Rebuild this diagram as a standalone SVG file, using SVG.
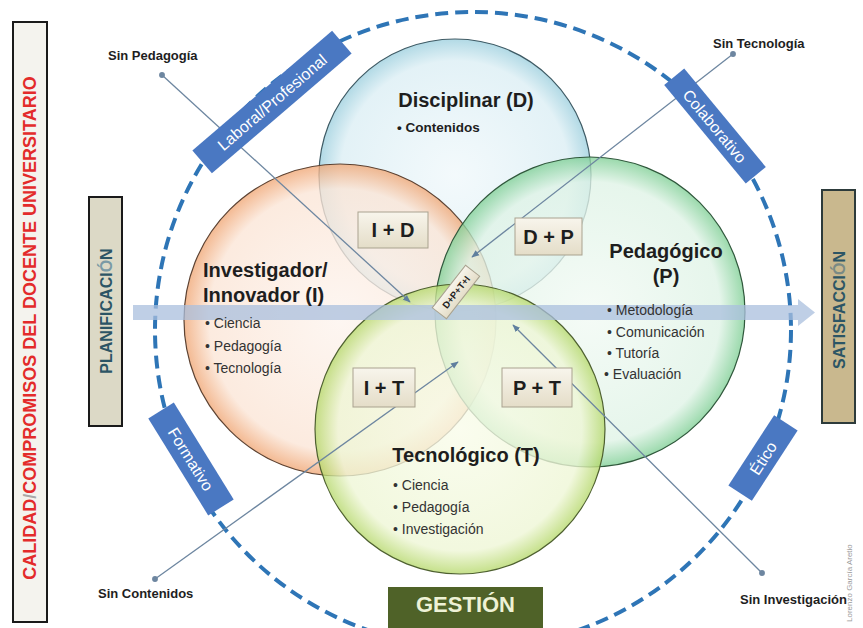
<svg xmlns="http://www.w3.org/2000/svg" width="863" height="628" viewBox="0 0 863 628">
<defs>
<radialGradient id="gD" cx="50%" cy="50%" r="50%"><stop offset="0" stop-color="#f0f8fb"/><stop offset="0.84" stop-color="#dbeef4"/><stop offset="1" stop-color="#9ccfde"/></radialGradient>
<radialGradient id="gI" cx="50%" cy="50%" r="50%"><stop offset="0" stop-color="#fdf4ee"/><stop offset="0.84" stop-color="#fbe5d6"/><stop offset="1" stop-color="#f0a674"/></radialGradient>
<radialGradient id="gP" cx="50%" cy="50%" r="50%"><stop offset="0" stop-color="#f2faf4"/><stop offset="0.84" stop-color="#dff3e6"/><stop offset="1" stop-color="#7fcf95"/></radialGradient>
<radialGradient id="gT" cx="50%" cy="50%" r="50%"><stop offset="0" stop-color="#f9fcea"/><stop offset="0.84" stop-color="#eef6d5"/><stop offset="1" stop-color="#b5d86a"/></radialGradient>
<linearGradient id="gBox" x1="0" y1="0" x2="0" y2="1"><stop offset="0" stop-color="#f8f5ec"/><stop offset="1" stop-color="#e4ddc8"/></linearGradient>
<marker id="arr" viewBox="0 0 10 10" refX="9" refY="5" markerWidth="6" markerHeight="6" orient="auto"><path d="M0,1 L10,5 L0,9 z" fill="#5f7f9e"/></marker>
<marker id="dot" viewBox="0 0 10 10" refX="5" refY="5" markerWidth="5" markerHeight="5"><circle cx="5" cy="5" r="4.5" fill="#6d86a0"/></marker>
</defs>
<style>
.circ{stroke-width:1.2;fill-opacity:0.78}
.t{font-family:"Liberation Sans",Arial,sans-serif;fill:#1e1e1e}
.title{font-size:20px;font-weight:bold}
.bul{font-size:14px;fill:#333}
.sin{font-size:13px;font-weight:bold;fill:#1e1e1e;font-family:"Liberation Sans",Arial,sans-serif}
.tag{fill:#4a78c2}
.tagt{font-family:"Liberation Sans",Arial,sans-serif;font-size:16px;fill:#ffffff}
.pair{fill:url(#gBox);stroke:#a9a28f;stroke-width:1}
.pairt{font-family:"Liberation Sans",Arial,sans-serif;font-size:20px;font-weight:bold;fill:#1e1e1e}
.conn{stroke:#6d86a0;stroke-width:1.3;fill:none;marker-start:url(#dot);marker-end:url(#arr)}
.side{font-family:"Liberation Sans",Arial,sans-serif;font-size:16px;font-weight:bold;fill:#2c5565}
</style>
<rect width="863" height="628" fill="#ffffff"/>

<g id="calidad">
<rect x="13" y="22" width="34" height="600" fill="#f4f3ee" stroke="#1a1a1a" stroke-width="2"/>
<text transform="translate(36,328) rotate(-90)" text-anchor="middle" font-family="Liberation Sans,Arial,sans-serif" font-size="18" font-weight="bold" fill="#e32b2b">CALIDAD<tspan fill="#a8a8a8">/</tspan>COMPROMISOS  DEL DOCENTE UNIVERSITARIO</text>
</g>

<g id="planificacion">
<rect x="89" y="197" width="33" height="229" fill="#dcd9c6" stroke="#1a1a1a" stroke-width="2"/>
<text class="side" transform="translate(111.5,311) rotate(-90)" text-anchor="middle">PLANIFICACI<tspan fill="#7a9aa5">Ó</tspan>N</text>
</g>

<g id="satisfaccion">
<rect x="822" y="190" width="33" height="233" fill="#c9b88e" stroke="#2d3b3b" stroke-width="2"/>
<text class="side" transform="translate(844.5,310) rotate(-90)" text-anchor="middle">SATISFACCI<tspan fill="#7a8a85">Ó</tspan>N</text>
</g>

<g id="marco">
<circle cx="473" cy="330" r="318" fill="none" stroke="#2e75b6" stroke-width="4" stroke-dasharray="13 7"/>
</g>

<g id="disciplinar">
<circle class="circ" cx="455" cy="175" r="136" fill="url(#gD)" stroke="#3e5a64"/>
</g>
<g id="investigador">
<circle class="circ" cx="340" cy="320" r="156" fill="url(#gI)" stroke="#5c4232"/>
</g>
<g id="pedagogico">
<circle class="circ" cx="590" cy="312" r="155" fill="url(#gP)" stroke="#30583c"/>
</g>
<g id="tecnologico">
<circle class="circ" cx="460" cy="429" r="145" fill="url(#gT)" stroke="#4e6030"/>
</g>

<g id="eje">
<path d="M133,305 L798,305 L798,299 L815,312.5 L798,326 L798,320 L133,320 z" fill="#a9bfdd" fill-opacity="0.75"/>
</g>

<g id="textos-disciplinar">
<text class="t title" x="466" y="107" text-anchor="middle">Disciplinar (D)</text>
<text class="t" x="397" y="132" font-size="13.5" font-weight="bold">• Contenidos</text>
</g>
<g id="textos-investigador">
<text class="t title" x="203" y="277" font-size="19">Investigador/</text>
<text class="t title" x="203" y="302" font-size="19">Innovador (I)</text>
<text class="t bul" x="205" y="328">• Ciencia</text>
<text class="t bul" x="205" y="351">• Pedagogía</text>
<text class="t bul" x="205" y="373">• Tecnología</text>
</g>
<g id="textos-pedagogico">
<text class="t title" x="666" y="258" text-anchor="middle">Pedagógico</text>
<text class="t title" x="666" y="283" text-anchor="middle">(P)</text>
<text class="t bul" x="607" y="315">• Metodología</text>
<text class="t bul" x="607" y="337">• Comunicación</text>
<text class="t bul" x="607" y="358">• Tutoría</text>
<text class="t bul" x="604" y="379">• Evaluación</text>
</g>
<g id="textos-tecnologico">
<text class="t title" x="466" y="462" text-anchor="middle">Tecnológico (T)</text>
<text class="t bul" x="393" y="490">• Ciencia</text>
<text class="t bul" x="393" y="512">• Pedagogía</text>
<text class="t bul" x="393" y="534">• Investigación</text>
</g>

<g id="connectors">
<line class="conn" x1="162" y1="75" x2="410" y2="302"/>
<line class="conn" x1="733" y1="54" x2="472" y2="257"/>
<line class="conn" x1="155" y1="579" x2="458" y2="362"/>
<line class="conn" x1="762" y1="573" x2="513" y2="325"/>
</g>

<g id="ID"><rect class="pair" x="358" y="212" width="70" height="36"/><text class="pairt" x="393" y="237" text-anchor="middle">I + D</text></g>
<g id="DP"><rect class="pair" x="515" y="218" width="67" height="37"/><text class="pairt" x="548.5" y="244" text-anchor="middle">D + P</text></g>
<g id="IT"><rect class="pair" x="353" y="368" width="62" height="39"/><text class="pairt" x="384" y="395" text-anchor="middle">I + T</text></g>
<g id="PT"><rect class="pair" x="502" y="368" width="70" height="39"/><text class="pairt" x="537" y="395" text-anchor="middle">P + T</text></g>
<g id="DPTI" transform="translate(456,292) rotate(-52)">
<rect class="pair" x="-27" y="-9" width="54" height="18"/>
<text x="0" y="3.5" text-anchor="middle" font-family="Liberation Sans,Arial,sans-serif" font-size="9.5" font-weight="bold" fill="#1e1e1e">D+P+T+I</text>
</g>

<g id="laboral" transform="translate(272,102) rotate(-40.6)">
<rect class="tag" x="-92" y="-15" width="184" height="30"/>
<text class="tagt" x="0" y="6" text-anchor="middle">Laboral/Profesional</text>
</g>
<g id="colaborativo" transform="translate(715,126) rotate(50.4)">
<rect class="tag" x="-64" y="-13" width="128" height="26"/>
<text class="tagt" x="0" y="6" text-anchor="middle">Colaborativo</text>
</g>
<g id="formativo" transform="translate(191,459) rotate(58.3)">
<rect class="tag" x="-57" y="-15" width="114" height="30"/>
<text class="tagt" x="0" y="6" text-anchor="middle">Formativo</text>
</g>
<g id="etico" transform="translate(763,458) rotate(-57)">
<rect class="tag" x="-42" y="-14" width="84" height="28"/>
<text class="tagt" x="0" y="6" text-anchor="middle">Ético</text>
</g>

<g id="gestion">
<rect x="388" y="587" width="155" height="45" fill="#4f6228"/>
<text x="465.5" y="612" text-anchor="middle" font-family="Liberation Sans,Arial,sans-serif" font-size="22" font-weight="bold" fill="#eef2d6">GESTIÓN</text>
</g>

<g id="etiquetas">
<text class="sin" x="108" y="60">Sin Pedagogía</text>
<text class="sin" x="713" y="48">Sin Tecnología</text>
<text class="sin" x="98" y="598">Sin Contenidos</text>
<text class="sin" x="740" y="604">Sin Investigación</text>
</g>

<text transform="translate(852,622) rotate(-90)" font-family="Liberation Sans,Arial,sans-serif" font-size="8" fill="#9a9a9a">Lorenzo García Aretio</text>
</svg>
